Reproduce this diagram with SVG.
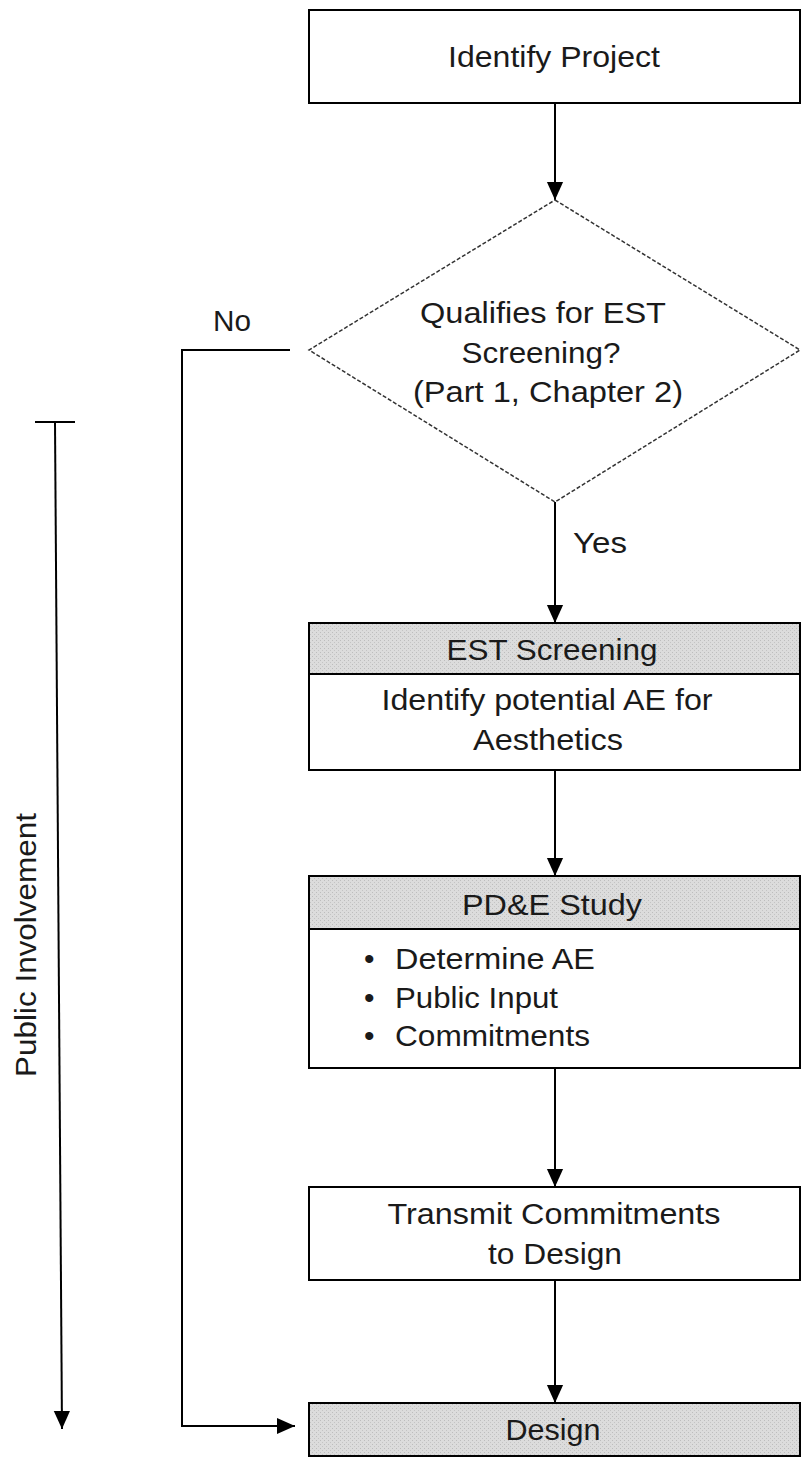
<svg xmlns="http://www.w3.org/2000/svg" width="804" height="1460" viewBox="0 0 804 1460">
<defs>
<marker id="arr" viewBox="0 0 10 10" refX="10" refY="5" markerWidth="18" markerHeight="18" markerUnits="userSpaceOnUse" orient="auto">
<path d="M0,0.5 L10,5 L0,9.5 z" fill="#000"/>
</marker>
<pattern id="dots" width="4" height="4" patternUnits="userSpaceOnUse">
<rect width="4" height="4" fill="#dcdcdc"/>
<rect x="0" y="0" width="1" height="1" fill="#bdbdbd"/>
<rect x="2" y="2" width="1" height="1" fill="#c4c4c4"/>
</pattern>
</defs>
<style>
.box{fill:#fff;stroke:#000;stroke-width:2}
.hdr{fill:url(#dots);stroke:#000;stroke-width:2}
.t{font-family:"Liberation Sans",Arial,sans-serif;font-size:30px;fill:#1a1a1a;text-anchor:middle}
.tl{font-family:"Liberation Sans",Arial,sans-serif;font-size:30px;fill:#1a1a1a}
.c{fill:none;stroke:#000;stroke-width:2}
</style>
<rect width="804" height="1460" fill="#fff"/>
<g id="connectors">
<line class="c" x1="555" y1="103" x2="555" y2="200" marker-end="url(#arr)"/>
<line class="c" x1="555" y1="502" x2="555" y2="623" marker-end="url(#arr)"/>
<line class="c" x1="555" y1="770" x2="555" y2="876" marker-end="url(#arr)"/>
<line class="c" x1="555" y1="1068" x2="555" y2="1187" marker-end="url(#arr)"/>
<line class="c" x1="555" y1="1280" x2="555" y2="1403" marker-end="url(#arr)"/>
<polyline class="c" points="290,350 182,350 182,1426 295,1426" marker-end="url(#arr)"/>
<text class="tl" x="213" y="331" textLength="38" lengthAdjust="spacingAndGlyphs">No</text>
<text class="tl" x="573" y="553" textLength="54" lengthAdjust="spacingAndGlyphs">Yes</text>
</g>
<g id="public-involvement">
<line class="c" x1="35" y1="422" x2="75" y2="422"/>
<line class="c" x1="55" y1="422" x2="62" y2="1429" marker-end="url(#arr)"/>
<text class="t" transform="translate(36,945) rotate(-90)" textLength="264" lengthAdjust="spacingAndGlyphs">Public Involvement</text>
</g>
<g id="identify-project">
<rect class="box" x="309" y="10" width="491" height="93"/>
<text class="t" x="554" y="67" textLength="212" lengthAdjust="spacingAndGlyphs">Identify Project</text>
</g>
<g id="qualifies">
<polygon points="555,200 800,350 555,502 309,350" fill="#fff" stroke="#333" stroke-width="1.5" stroke-dasharray="4,2"/>
<text class="t" x="543" y="323" textLength="246" lengthAdjust="spacingAndGlyphs">Qualifies for EST</text>
<text class="t" x="541" y="363" textLength="159" lengthAdjust="spacingAndGlyphs">Screening?</text>
<text class="t" x="548" y="402" textLength="270" lengthAdjust="spacingAndGlyphs">(Part 1, Chapter 2)</text>
</g>
<g id="est-screening">
<rect class="box" x="309" y="623" width="491" height="147"/>
<rect class="hdr" x="309" y="623" width="491" height="51"/>
<text class="t" x="552" y="660" textLength="211" lengthAdjust="spacingAndGlyphs">EST Screening</text>
<text class="t" x="547" y="710" textLength="331" lengthAdjust="spacingAndGlyphs">Identify potential AE for</text>
<text class="t" x="548" y="750" textLength="150" lengthAdjust="spacingAndGlyphs">Aesthetics</text>
</g>
<g id="pde-study">
<rect class="box" x="309" y="876" width="491" height="192"/>
<rect class="hdr" x="309" y="876" width="491" height="53"/>
<text class="t" x="552" y="915" textLength="180" lengthAdjust="spacingAndGlyphs">PD&amp;E Study</text>
<text class="tl" x="364" y="969">•</text>
<text class="tl" x="395" y="969" textLength="200" lengthAdjust="spacingAndGlyphs">Determine AE</text>
<text class="tl" x="364" y="1008">•</text>
<text class="tl" x="395" y="1008" textLength="163" lengthAdjust="spacingAndGlyphs">Public Input</text>
<text class="tl" x="364" y="1046">•</text>
<text class="tl" x="395" y="1046" textLength="195" lengthAdjust="spacingAndGlyphs">Commitments</text>
</g>
<g id="transmit">
<rect class="box" x="309" y="1187" width="491" height="93"/>
<text class="t" x="554" y="1224" textLength="333" lengthAdjust="spacingAndGlyphs">Transmit Commitments</text>
<text class="t" x="555" y="1264" textLength="134" lengthAdjust="spacingAndGlyphs">to Design</text>
</g>
<g id="design">
<rect class="hdr" x="309" y="1403" width="491" height="53"/>
<text class="t" x="553" y="1440" textLength="95" lengthAdjust="spacingAndGlyphs">Design</text>
</g>
</svg>
